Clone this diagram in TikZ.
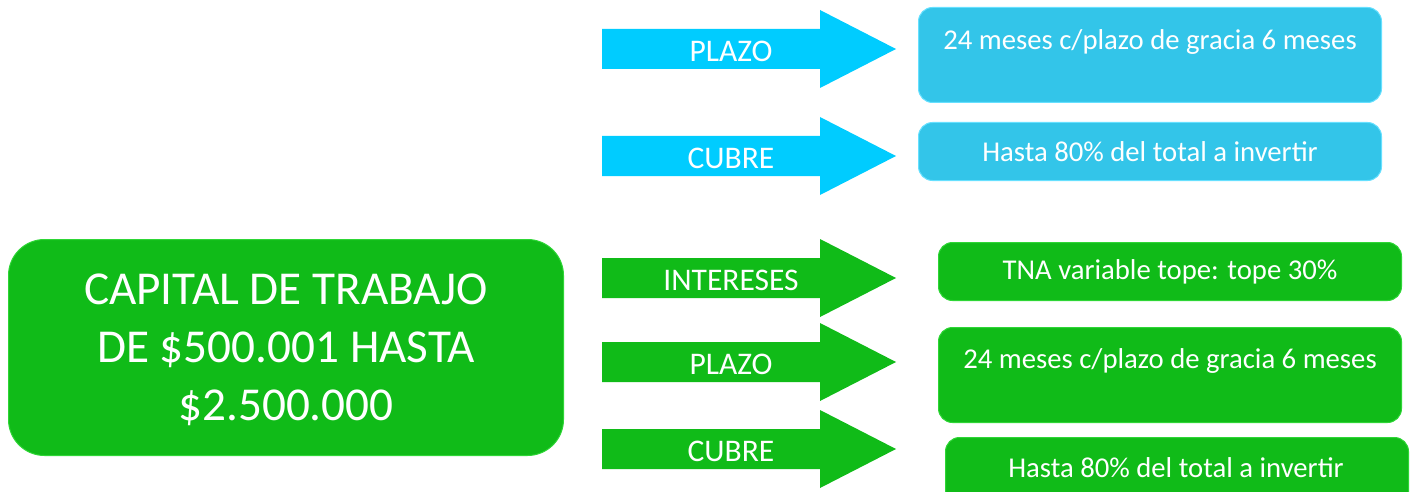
\documentclass[tikz,border=0pt]{standalone}
\usepackage{fontspec}
\setmainfont{Carlito}
\usetikzlibrary{positioning}
\definecolor{celeste}{HTML}{00CCFF}
\definecolor{celesteCaja}{HTML}{33C5E9}
\definecolor{verde}{HTML}{10BB18}
\definecolor{verdeBorde}{HTML}{2ED636}
\tikzset{
  caja/.style={rounded corners=14pt, line width=1pt, anchor=north west, inner sep=0pt},
  texto/.style={text=white, font=\fontsize{28.7}{33}\selectfont},
  etiqueta/.style={text=white, font=\fontsize{31.5}{36}\selectfont},
}
% flecha: nombre, y del centro, color, texto
\newcommand{\flecha}[4]{%
  \fill[#3] (602,#2-20) -- (820,#2-20) -- (820,#2-39) -- (896,#2)
    -- (820,#2+39) -- (820,#2+20) -- (602,#2+20) -- cycle;
  \node[etiqueta] (#1) at (731,#2+2) {#4};}
\begin{document}
\begin{tikzpicture}[x=1pt,y=-1pt]
\useasboundingbox (0,0) rectangle (1413,492);
% caja principal
\node[caja, rounded corners=36pt, fill=verde, draw=verdeBorde,
  minimum width=555pt, minimum height=216pt] (capital) at (8,239) {};
\node[text=white, align=center, font=\fontsize{47.2}{58}\selectfont]
  (capitalTxt) at ([yshift=-2pt]capital.center) {CAPITAL DE TRABAJO\\DE \$500.001 HASTA\\\$2.500.000};
% flechas celestes
\flecha{plazoA}{49}{celeste}{PLAZO}
\flecha{cubreA}{156}{celeste}{CUBRE}
% cajas celestes
\node[caja, fill=celesteCaja, draw=celeste!60!white,
  minimum width=463pt, minimum height=95pt] (plazoCajaA) at (918,7) {};
\node[texto, below=19pt of plazoCajaA.north] (plazoTxtA) {24 meses c/plazo de gracia 6 meses};
\node[caja, fill=celesteCaja, draw=celeste!60!white,
  minimum width=463pt, minimum height=58pt] (cubreCajaA) at (918,122) {};
\node[texto] (cubreTxtA) at (cubreCajaA.center) {Hasta 80\% del total a invertir};
% flechas verdes
\flecha{intereses}{278}{verde}{INTERESES}
\flecha{plazoB}{362}{verde}{PLAZO}
\flecha{cubreB}{449}{verde}{CUBRE}
% cajas verdes
\node[caja, fill=verde, draw=verdeBorde,
  minimum width=463pt, minimum height=58pt] (tnaCaja) at (938,242) {};
\node[texto] (tnaTxt) at (tnaCaja.center) {TNA variable tope: tope 30\%};
\node[caja, fill=verde, draw=verdeBorde,
  minimum width=463pt, minimum height=95pt] (plazoCajaB) at (938,327) {};
\node[texto, below=18pt of plazoCajaB.north] (plazoTxtB) {24 meses c/plazo de gracia 6 meses};
\node[caja, fill=verde, draw=verdeBorde,
  minimum width=463pt, minimum height=70pt] (cubreCajaB) at (945,437) {};
\node[texto] (cubreTxtB) at (1176,468) {Hasta 80\% del total a invertir};
\end{tikzpicture}
\end{document}
